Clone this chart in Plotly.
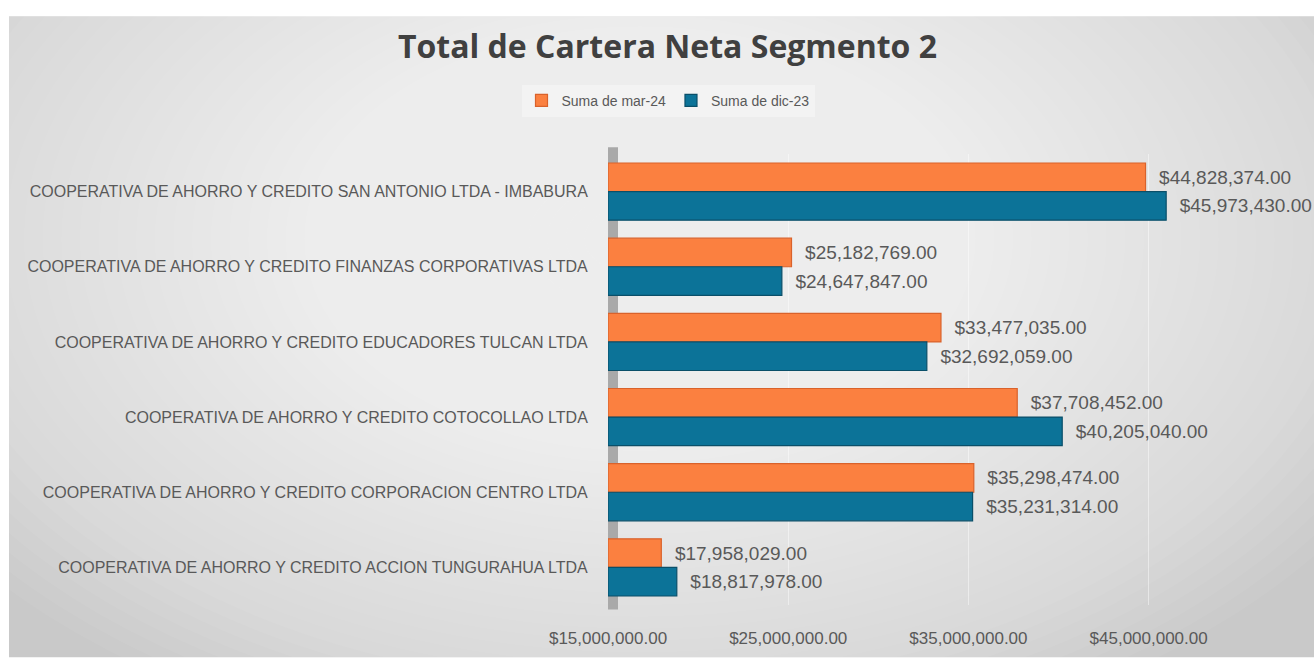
import plotly.graph_objects as go

categories = [
    "COOPERATIVA DE AHORRO Y CREDITO SAN ANTONIO LTDA - IMBABURA",
    "COOPERATIVA DE AHORRO Y CREDITO FINANZAS CORPORATIVAS LTDA",
    "COOPERATIVA DE AHORRO Y CREDITO EDUCADORES TULCAN LTDA",
    "COOPERATIVA DE AHORRO Y CREDITO COTOCOLLAO LTDA",
    "COOPERATIVA DE AHORRO Y CREDITO CORPORACION CENTRO LTDA",
    "COOPERATIVA DE AHORRO Y CREDITO ACCION TUNGURAHUA LTDA",
]
mar24 = [44828374.00, 25182769.00, 33477035.00, 37708452.00, 35298474.00, 17958029.00]
dic23 = [45973430.00, 24647847.00, 32692059.00, 40205040.00, 35231314.00, 18817978.00]
axis_min = 15000000
axis_max = 53400000
tick_vals = [15000000, 25000000, 35000000, 45000000]
tick_text = ["$15,000,000.00", "$25,000,000.00", "$35,000,000.00", "$45,000,000.00"]

W, H = 1314, 660
ML, MR, MT, MB = 608, 14, 154, 48
PW, PH = W - ML - MR, H - MT - MB


def px(xp):
    return (xp - ML) / PW


def py(yp):
    return (H - MB - yp) / PH


fig = go.Figure()
fig.add_trace(go.Bar(
    name="Suma de mar-24", orientation="h", y=categories,
    x=[v - axis_min for v in mar24], base=axis_min, customdata=mar24,
    marker=dict(color="#FB8040", line=dict(color="#D9622B", width=1.2)),
    texttemplate="\u00a0\u00a0$%{customdata:,.2f}", textposition="outside",
    textfont=dict(family="Liberation Sans", size=19, color="#595959"),
    cliponaxis=False,
))
fig.add_trace(go.Bar(
    name="Suma de dic-23", orientation="h", y=categories,
    x=[v - axis_min for v in dic23], base=axis_min, customdata=dic23,
    marker=dict(color="#0C7398", line=dict(color="#0A4F69", width=1.2)),
    texttemplate="\u00a0\u00a0$%{customdata:,.2f}", textposition="outside",
    textfont=dict(family="Liberation Sans", size=19, color="#595959"),
    cliponaxis=False,
))

shapes = [
    dict(type="rect", xref="paper", yref="paper", x0=px(9), x1=px(W), y0=py(14), y1=py(H + 5),
         fillcolor="#c9c9c9", line=dict(width=0), layer="below"),
]
N = 45
cx, cy = 640, 240
for i in range(N):
    s = 1 - i / N
    rx, ry = 840 * s, 540 * s
    shapes.append(dict(type="circle", xref="paper", yref="paper",
                       x0=px(cx - rx), x1=px(cx + rx), y0=py(cy + ry), y1=py(cy - ry),
                       fillcolor="rgba(255,255,255,0.05)", line=dict(width=0), layer="below"))
# side wall of the 3D chart
shapes.append(dict(type="rect", xref="x", yref="paper", xsizemode="pixel", xanchor=axis_min,
                   x0=-3, x1=10, y0=-0.01, y1=1.015, fillcolor="#a9a9a9",
                   line=dict(width=0), layer="below"))
shapes.append(dict(type="line", xref="x", yref="paper", xsizemode="pixel", xanchor=axis_min,
                   x0=-3, x1=-3, y0=-0.015, y1=1.015, line=dict(color="#595959", width=2.5),
                   layer="below"))

fig.update_layout(
    width=W, height=H,
    margin=dict(l=ML, r=MR, t=MT, b=MB),
    paper_bgcolor="white", plot_bgcolor="rgba(0,0,0,0)",
    barmode="group", bargap=0.24, bargroupgap=0.0,
    title=dict(text="<b>Total de Cartera Neta Segmento 2</b>", x=0.508, xanchor="center",
               y=1 - 47 / H, yanchor="middle", yref="container",
               font=dict(family="Open Sans", size=32, color="#404040")),
    legend=dict(orientation="h", x=px(668), xanchor="center", y=py(100), yanchor="middle",
                bgcolor="rgba(255,255,255,0.35)", itemwidth=30,
                font=dict(family="Liberation Sans", size=14, color="#595959"),
                traceorder="normal"),
    xaxis=dict(range=[axis_min, axis_max], tickvals=tick_vals, ticktext=tick_text,
               showgrid=True, gridcolor="rgba(255,255,255,0.45)", zeroline=False,
               ticks="outside", ticklen=18, tickcolor="rgba(0,0,0,0)", showline=False,
               tickfont=dict(family="Liberation Sans", size=17, color="#595959")),
    yaxis=dict(autorange="reversed", showgrid=False, zeroline=False, showline=False,
               ticks="outside", ticklen=16, tickcolor="rgba(0,0,0,0)",
               tickfont=dict(family="Liberation Sans", size=16, color="#595959")),
    shapes=shapes,
)

fig.write_html("out.html", config={"displayModeBar": False},
               post_script="document.body.style.margin='0';")
